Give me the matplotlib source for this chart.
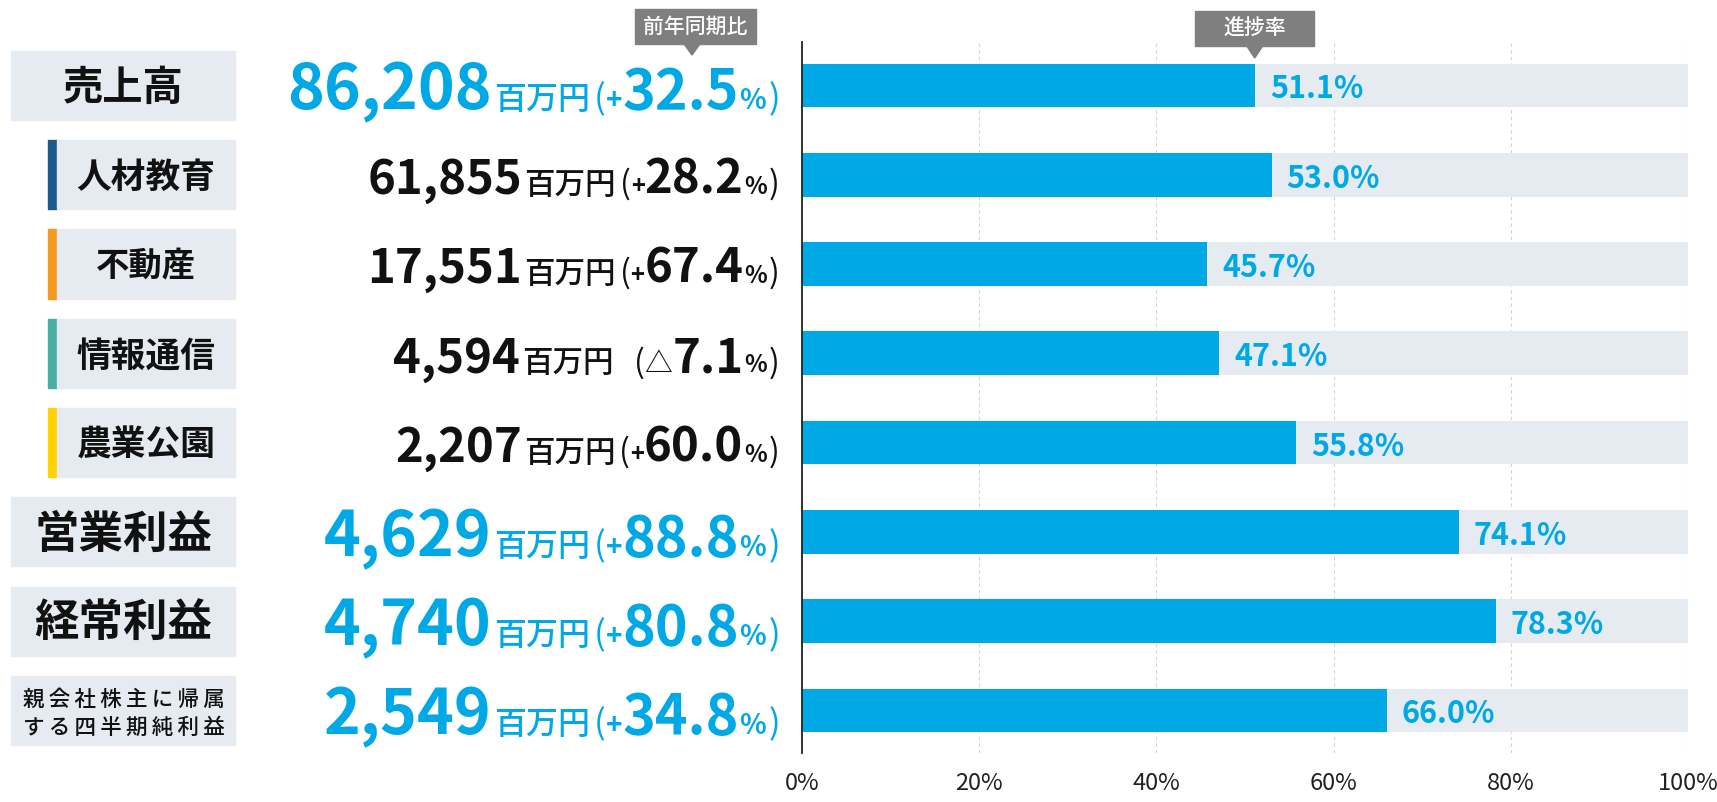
import matplotlib
matplotlib.use("Agg")
import matplotlib.pyplot as plt
from matplotlib import transforms
from matplotlib.patches import Rectangle, Polygon

plt.rcParams['font.family'] = ['Noto Sans CJK JP', 'DejaVu Sans']

# ---------------- data ----------------
categories = ["売上高", "人材教育", "不動産", "情報通信", "農業公園",
              "営業利益", "経常利益", "親会社株主に帰属\nする四半期純利益"]
kinds = ["main", "seg", "seg", "seg", "seg", "main", "main", "main"]
seg_colors = {"人材教育": "#1A5A8C", "不動産": "#F39A1F",
              "情報通信": "#47AFA5", "農業公園": "#FFD200"}
amounts = [86208, 61855, 17551, 4594, 2207, 4629, 4740, 2549]
yoy = [32.5, 28.2, 67.4, -7.1, 60.0, 88.8, 80.8, 34.8]
progress = [51.1, 53.0, 45.7, 47.1, 55.8, 74.1, 78.3, 66.0]
xticks = [0, 20, 40, 60, 80, 100]
xtick_labels = ["0%", "20%", "40%", "60%", "80%", "100%"]
unit_label = "百万円"
callout_yoy = "前年同期比"
callout_prog = "進捗率"

BLUE = "#00A9E5"
BAND = "#E5EBF1"
DARK = "#111111"
GREY = "#7F7F7F"

W, H = 1717, 802
fig = plt.figure(figsize=(W / 100, H / 100), dpi=100)
ax = fig.add_axes([802 / W, 1 - 753 / H, 886 / W, 711 / H])
n = len(categories)
rows = list(range(n))
ax.set_xlim(0, 100)
ax.set_ylim(7.476, -0.486)

ax.barh(rows, [100] * n, height=0.49, color=BAND, zorder=1)
ax.barh(rows, progress, height=0.49, color=BLUE, zorder=2)
for i, p in enumerate(progress):
    ax.annotate(f"{p:.1f}%", (p, i), xytext=(15, -4), textcoords='offset pixels',
                va='center', ha='left', color=BLUE, fontsize=22,
                fontweight='bold', zorder=3)

ax.set_xticks(xticks)
ax.set_xticklabels(xtick_labels)
ax.set_yticks([])
ax.xaxis.grid(True, linestyle=(0, (3, 3)), color='#D3D3D3', lw=0.8)
ax.set_axisbelow(True)
ax.tick_params(axis='x', length=0, pad=14, labelsize=17, labelcolor='#222222')
for s in ['top', 'right', 'bottom']:
    ax.spines[s].set_visible(False)
ax.spines['left'].set_color('#222222')
ax.spines['left'].set_linewidth(1.3)

# ---------------- left labels ----------------
yx = transforms.blended_transform_factory(transforms.IdentityTransform(), ax.transData)
lab_tr = transforms.offset_copy(yx, fig=fig, x=0, y=-3, units='dots')
box_h = 0.773
for i, (cat, kind) in enumerate(zip(categories, kinds)):
    if kind == "main":
        fig.add_artist(Rectangle((11, i - box_h / 2), 224, box_h, transform=yx,
                                 color=BAND, zorder=1))
        if "\n" in cat:
            spaced = "\n".join("\u2009".join(line) for line in cat.split("\n"))
            fig.text(124, i, spaced, transform=lab_tr, ha='center', va='center',
                     fontsize=15.5, fontweight='medium', color=DARK, linespacing=1.35)
        else:
            fs = 29 if len(cat) <= 3 else 32
            fig.text(123, i, cat, transform=lab_tr, ha='center', va='center',
                     fontsize=fs, fontweight='bold', color=DARK)
    else:
        fig.add_artist(Rectangle((48, i - box_h / 2), 9, box_h, transform=yx,
                                 color=seg_colors[cat], zorder=1))
        fig.add_artist(Rectangle((57, i - box_h / 2), 178, box_h, transform=yx,
                                 color=BAND, zorder=1))
        fs = 25 if len(cat) == 4 else 24
        fig.text(146, i, cat, transform=lab_tr, ha='center', va='center',
                 fontsize=fs, fontweight='bold', color=DARK)

# ---------------- value texts ----------------
renderer = fig.canvas.get_renderer()
RIGHT = 780
for i, (amt, g, kind) in enumerate(zip(amounts, yoy, kinds)):
    if kind == "main":
        col = BLUE
        sz = dict(num=45, unit=23, par=25, sign=20, pct=40, ps=20)
        base_off = 24
    else:
        col = DARK
        sz = dict(num=34, unit=22, par=23, sign=17, pct=34, ps=17)
        base_off = 19
    pieces = [(f"{amt:,}", sz['num'], 'bold', 0),
              (unit_label, sz['unit'], 'medium', 2)]
    if g >= 0:
        pieces += [("(", sz['par'], 'normal', 4), ("+", sz['sign'], 'bold', 0)]
    else:
        pieces += [("(", sz['par'], 'normal', 20), ("△", sz['sign'] + 3, 'normal', 0)]
    pieces += [(f"{abs(g):.1f}", sz['pct'], 'bold', 0),
               ("%", sz['ps'], 'bold', 1),
               (")", sz['par'], 'normal', 2)]
    tr = transforms.offset_copy(yx, fig=fig, x=0, y=-base_off, units='dots')
    texts = []
    for s, size, weight, gap in pieces:
        t = fig.text(0, i, s, transform=tr, fontsize=size, fontweight=weight,
                     color=col, va='baseline', ha='left')
        texts.append((t, gap))
    widths = [t.get_window_extent(renderer).width for t, _ in texts]
    total = sum(widths) + sum(gp for _, gp in texts)
    x = RIGHT - total
    for (t, gap), w in zip(texts, widths):
        x += gap
        t.set_x(x)
        x += w

# ---------------- callouts ----------------
def callout(cx, top, bottom, width, tip, label, tipx=None):
    if tipx is None:
        tipx = cx
    fig.add_artist(Rectangle((cx - width / 2, H - bottom), width, bottom - top,
                             transform=transforms.IdentityTransform(), color=GREY, zorder=5))
    fig.add_artist(Polygon([(tipx - 8, H - bottom), (tipx + 8, H - bottom), (tipx, H - tip)],
                           closed=True, transform=transforms.IdentityTransform(),
                           color=GREY, zorder=5))
    fig.text(cx, H - (top + bottom) / 2, label, transform=transforms.IdentityTransform(),
             ha='center', va='center', color='white', fontsize=15,
             fontweight='medium', zorder=6)

callout(695, 9, 44, 121, 55, callout_yoy, tipx=692)
px = ax.transData.transform((progress[0], 0))[0]
callout(px, 11, 46, 119, 58, callout_prog)

fig.savefig("out.png", dpi=100, facecolor='white')
